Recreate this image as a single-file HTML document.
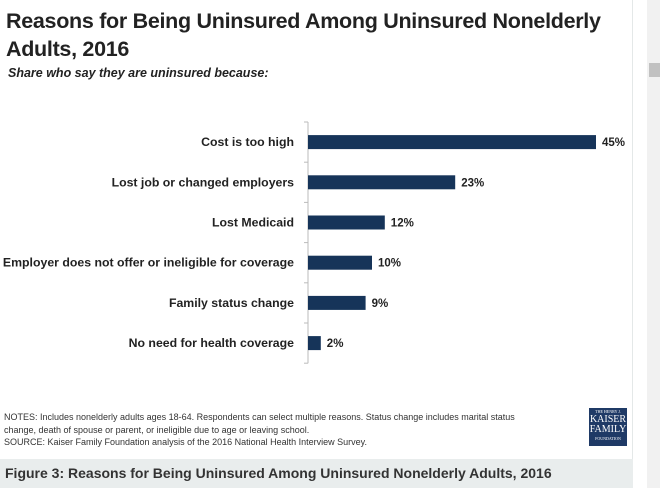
<!DOCTYPE html>
<html><head><meta charset="utf-8">
<style>
body{margin:0;width:660px;height:488px;background:#fff;position:relative;overflow:hidden;font-family:"Liberation Sans",sans-serif}
.t{position:absolute;left:6px;top:7px;font-size:21.5px;font-weight:bold;color:#222;line-height:28px;letter-spacing:-0.3px}
.st{position:absolute;left:8px;top:66px;font-size:12.5px;font-weight:bold;font-style:italic;color:#222}
.notes{position:absolute;left:4px;top:411px;font-size:9px;color:#333;line-height:12.5px;font-family:"Liberation Sans Narrow","Liberation Sans",sans-serif}
.cap{position:absolute;left:0;top:459px;width:633px;height:29px;background:#e9eded;font-size:14px;font-weight:bold;color:#333;line-height:29px;padding-left:5px;box-sizing:border-box}
.sb{position:absolute;left:647px;top:0;width:13px;height:488px;background:#f1f1f1}
.thumb{position:absolute;left:649px;top:63px;width:11px;height:14px;background:#c1c1c1}
.border{position:absolute;left:632px;top:0;width:1px;height:459px;background:#e4e8e8}
.logo{position:absolute;left:589px;top:408px;width:38px;height:38px;background:#1f3a66;color:#fff;font-family:"Liberation Serif",serif;text-align:center;font-size:10px;line-height:10px}
</style></head><body>
<div class="t">Reasons for Being Uninsured Among Uninsured Nonelderly<br>Adults, 2016</div>
<div class="st">Share who say they are uninsured because:</div>
<svg id="chart" width="632" height="400" style="position:absolute;left:0;top:0"></svg>
<div class="notes">NOTES: Includes nonelderly adults ages 18-64. Respondents can select multiple reasons. Status change includes marital status<br>change, death of spouse or parent, or ineligible due to age or leaving school.<br>SOURCE: Kaiser Family Foundation analysis of the 2016 National Health Interview Survey.</div>
<div class="logo"><div style="font-size:4px;line-height:7px">THE HENRY J.</div>KAISER<br>FAMILY<div style="font-size:4px;line-height:7px">FOUNDATION</div></div>
<div class="border"></div>
<div class="cap">Figure 3: Reasons for Being Uninsured Among Uninsured Nonelderly Adults, 2016</div>
<div class="sb"></div>
<div class="thumb"></div>
<script>
const categories=["Cost is too high","Lost job or changed employers","Lost Medicaid","Employer does not offer or ineligible for coverage","Family status change","No need for health coverage"];
const values=[45,23,12,10,9,2];
const valueLabels=["45%","23%","12%","10%","9%","2%"];
const svg=document.getElementById('chart');
const NS='http://www.w3.org/2000/svg';
const x0=308,pxPer=6.4,yTop=122,step=40.2,bh=14;
const xs=v=>x0+v*pxPer;
const yc=i=>yTop+step*(i+0.5);
function mk(t,a){const e=document.createElementNS(NS,t);for(const k in a)e.setAttribute(k,a[k]);svg.appendChild(e);return e;}
const ax=mk('line',{x1:x0,x2:x0,y1:yTop,y2:yTop+step*categories.length,stroke:'#bbb','stroke-width':1});


for(let i=0;i<=categories.length;i++){
 const tk=mk('line',{x1:x0-4,x2:x0,y1:yTop+step*i,y2:yTop+step*i,stroke:'#bbb'});
 
 
}
categories.forEach((c,i)=>{
 const r=mk('rect',{x:x0,y:yc(i)-bh/2,width:xs(values[i])-x0,height:bh,fill:'#163459'});
 
 
 const l=mk('text',{x:x0-14,y:yc(i)+4,'text-anchor':'end','font-size':'12.3','font-weight':'bold',fill:'#222','font-family':'Liberation Sans, sans-serif'});
 l.textContent=c;
 
 
 const v=mk('text',{x:xs(values[i])+6,y:yc(i)+4,'font-size':'11.5','font-weight':'bold',fill:'#222','font-family':'Liberation Sans, sans-serif'});
 v.textContent=valueLabels[i];
 
 
});
</script>
</body></html>
